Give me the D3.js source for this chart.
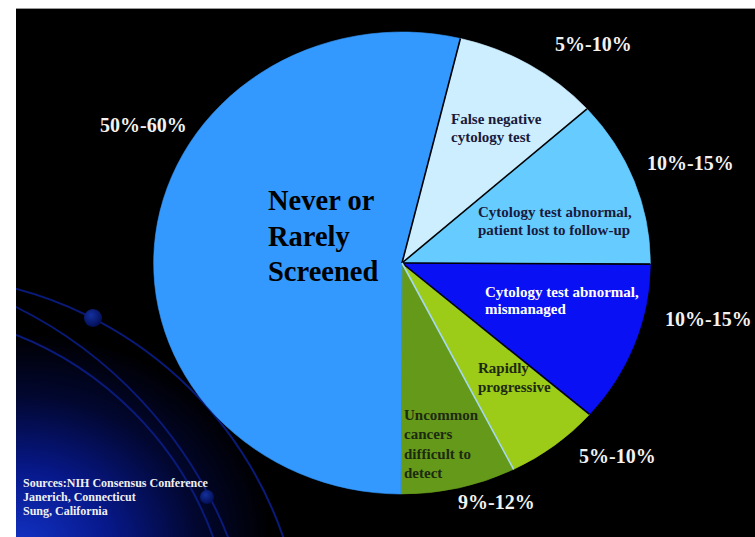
<!DOCTYPE html>
<html>
<head>
<meta charset="utf-8">
<script src="https://cdn.jsdelivr.net/npm/d3@7"></script>
<style>
  html, body { margin: 0; padding: 0; background: #ffffff; }
  svg { display: block; }
  text { font-family: "Liberation Serif", "Times New Roman", serif; font-weight: bold; }
</style>
</head>
<body>
<svg id="chart" width="755" height="537"></svg>
<script>
// ---- data ----
const categories = [
  "False negative cytology test",
  "Cytology test abnormal, patient lost to follow-up",
  "Cytology test abnormal, mismanaged",
  "Rapidly progressive",
  "Uncommon cancers difficult to detect",
  "Never or Rarely Screened"
];
const shares = [9.6, 11.7, 11.3, 6.2, 7.5, 53.7];
const rangeLabels = ["5%-10%", "10%-15%", "10%-15%", "5%-10%", "9%-12%", "50%-60%"];
const labelLines = [
  ["False negative", "cytology test"],
  ["Cytology test abnormal,", "patient lost to follow-up"],
  ["Cytology test abnormal,", "mismanaged"],
  ["Rapidly", "progressive"],
  ["Uncommon", "cancers", "difficult to", "detect"],
  ["Never or", "Rarely", "Screened"]
];
const sourceLines = ["Sources:NIH Consensus Conference", "Janerich, Connecticut", "Sung, California"];

// ---- styles / layout ----
const W = 755, H = 537;
const colors = ["#cceeff", "#66ccff", "#0a10f4", "#9ccb18", "#64991a", "#3399ff"];
const sepColors = ["#000000", "#000000", "#000000", "#000000", "#a8d8f2", null];
const innerText = ["#1a1a3c", "#1a1a3c", "#ffffff", "#1c2a10", "#1c2a10", "#000000"];
const cx = 402, cy = 263, R = 231, sx = 1.075;

const svg = d3.select("#chart");
const defs = svg.append("defs");

// background
defs.append("clipPath").attr("id", "bgclip")
  .append("rect").attr("x", 16).attr("y", 8).attr("width", W - 16).attr("height", H - 8);
const glow = defs.append("radialGradient").attr("id", "glow")
  .attr("gradientUnits", "userSpaceOnUse")
  .attr("cx", 22).attr("cy", 545).attr("r", 250)
  .attr("gradientTransform", "translate(22,545) scale(1.0,0.85) translate(-22,-545)");
glow.append("stop").attr("offset", "0%").attr("stop-color", "#1232c4");
glow.append("stop").attr("offset", "35%").attr("stop-color", "#07188a");
glow.append("stop").attr("offset", "70%").attr("stop-color", "#020730");
glow.append("stop").attr("offset", "100%").attr("stop-color", "#000000");
const ball = defs.append("radialGradient").attr("id", "ball").attr("cx", "40%").attr("cy", "35%").attr("r", "65%");
ball.append("stop").attr("offset", "0%").attr("stop-color", "#14309e");
ball.append("stop").attr("offset", "100%").attr("stop-color", "#030f55");

svg.append("rect").attr("width", W).attr("height", H).attr("fill", "#ffffff");
const bg = svg.append("g").attr("clip-path", "url(#bgclip)");
bg.append("rect").attr("x", 16).attr("y", 8).attr("width", W - 16).attr("height", H - 8).attr("fill", "#000000");
bg.append("rect").attr("x", 16).attr("y", 8).attr("width", W - 16).attr("height", H - 8).attr("fill", "url(#glow)");
bg.append("rect").attr("x", 15.5).attr("y", 8.5).attr("width", W - 15).attr("height", H - 8)
  .attr("fill", "none").attr("stroke", "#9a9a9a").attr("stroke-width", 1);

// decorative orbit arcs
const deg = Math.PI / 180;
const orbits = [
  { c: [-83.5, 663.8], r: 388, a0: -80, a1: -15 },
  { c: [-179.2, 699.6], r: 438.4, a0: -68, a1: -18 },
  { c: [-110.5, 655.4], r: 344.5, a0: -74, a1: -16 }
];
orbits.forEach(o => {
  const p = d3.path();
  p.arc(o.c[0], o.c[1], o.r, o.a0 * deg, o.a1 * deg);
  bg.append("path").attr("d", p.toString()).attr("fill", "none")
    .attr("stroke", "#0a1a78").attr("stroke-width", 2);
});
bg.append("circle").attr("cx", 93).attr("cy", 318).attr("r", 9).attr("fill", "url(#ball)");
bg.append("circle").attr("cx", 207).attr("cy", 497).attr("r", 7).attr("fill", "url(#ball)");

// ---- pie ----
const pie = d3.pie().sort(null).value(d => d)
  .startAngle(13.6 * deg).endAngle(13.6 * deg + 2 * Math.PI);
const arcs = pie(shares);
const arc = d3.arc().innerRadius(0).outerRadius(R);

const pg = svg.append("g").attr("transform", `translate(${cx},${cy}) scale(${sx},1)`);
pg.selectAll("path.slice").data(arcs).join("path")
  .attr("class", "slice")
  .attr("d", arc)
  .attr("fill", (d, i) => colors[i])
  .attr("stroke", (d, i) => colors[i])
  .attr("stroke-width", 0.6);

// radial separators at each slice start
pg.selectAll("line.sep").data(arcs.filter((d, i) => sepColors[i])).join("line")
  .attr("class", "sep")
  .attr("x1", 0).attr("y1", 0)
  .attr("x2", d => R * Math.sin(d.startAngle))
  .attr("y2", d => -R * Math.cos(d.startAngle))
  .attr("stroke", d => sepColors[d.index])
  .attr("stroke-width", 1.6)
  .attr("vector-effect", "non-scaling-stroke");

// ---- text ----
const innerPos = [
  { x: 451, y: 124, dy: 18, size: 15 },
  { x: 478, y: 217, dy: 18, size: 15 },
  { x: 485, y: 297, dy: 17, size: 15 },
  { x: 478, y: 373, dy: 19, size: 15 },
  { x: 404, y: 420, dy: 19.3, size: 15 },
  { x: 268, y: 210, dy: 35.5, size: 28.5 }
];
labelLines.forEach((lines, i) => {
  const p = innerPos[i];
  const t = svg.append("text").attr("x", p.x).attr("y", p.y)
    .attr("font-size", p.size).attr("fill", innerText[i]);
  lines.forEach((ln, j) => {
    t.append("tspan").attr("x", p.x).attr("y", p.y + j * p.dy).text(ln);
  });
});

const rangePos = [
  { x: 555, y: 51 }, { x: 647, y: 170 }, { x: 665, y: 326 },
  { x: 579, y: 463 }, { x: 458, y: 509 }, { x: 100, y: 132 }
];
svg.selectAll("text.range").data(rangeLabels).join("text")
  .attr("class", "range")
  .attr("x", (d, i) => rangePos[i].x)
  .attr("y", (d, i) => rangePos[i].y)
  .attr("font-size", 20)
  .attr("fill", "#f2f2f2")
  .text(d => d);

svg.selectAll("text.src").data(sourceLines).join("text")
  .attr("class", "src")
  .attr("x", 23)
  .attr("y", (d, i) => 487 + i * 14)
  .attr("font-size", 12)
  .attr("fill", "#f0f0f0")
  .text(d => d);
</script>
</body>
</html>
